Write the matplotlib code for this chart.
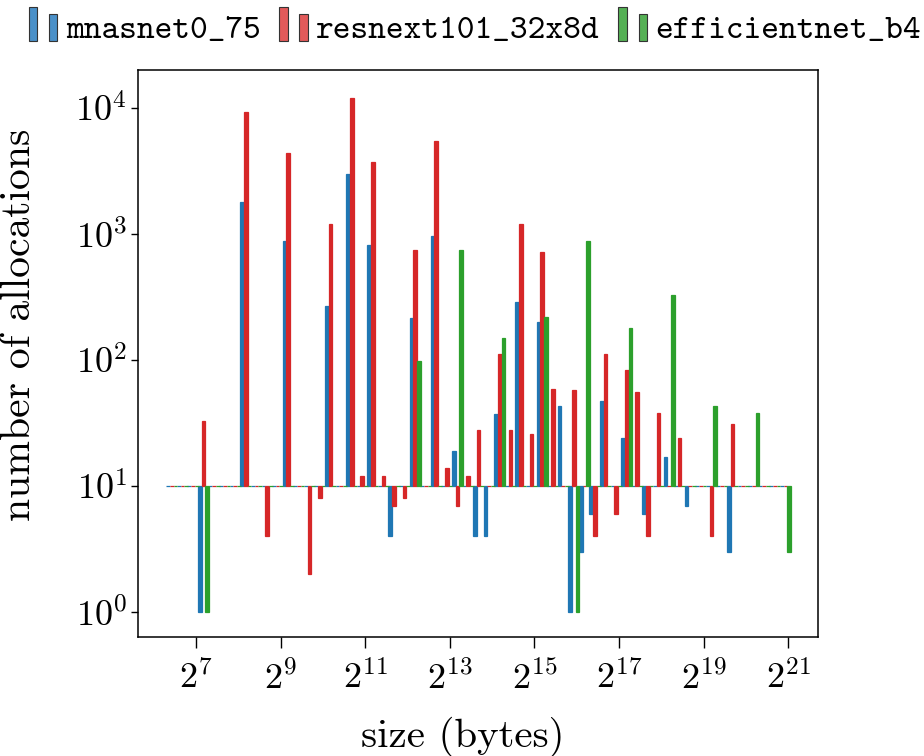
import numpy as np
import matplotlib
matplotlib.use("Agg")
import matplotlib.pyplot as plt
from matplotlib.patches import Rectangle, Patch
from matplotlib.legend_handler import HandlerBase
from matplotlib.ticker import NullLocator

plt.rcParams['mathtext.fontset'] = 'cm'
plt.rcParams['axes.formatter.use_mathtext'] = True

# bin positions, in log2(bytes)
size_log2 = 6.43 + 0.25 * np.arange(59)

mnasnet0_75 = [10, 10, 10, 1, 10, 10, 10, 1800, 10, 10,
               10, 870, 10, 10, 10, 270, 10, 3000, 10, 820,
               10, 4, 10, 215, 10, 960, 10, 19, 10, 4,
               4, 37, 10, 290, 10, 200, 10, 43, 1, 3,
               6, 47, 10, 24, 10, 6, 10, 17, 10, 7,
               10, 10, 10, 3, 10, 10, 10, 10, 10]

resnext101_32x8d = [10, 10, 10, 33, 10, 10, 10, 9200, 10, 4,
                    10, 4400, 10, 2, 8, 1200, 10, 12000, 12, 3700,
                    12, 7, 8, 740, 10, 5500, 14, 7, 12, 28,
                    10, 112, 28, 1200, 26, 720, 59, 10, 58, 10,
                    4, 112, 6, 83, 56, 4, 38, 10, 24, 10,
                    10, 4, 10, 31, 10, 10, 10, 10, 10]

efficientnet_b4 = [10, 10, 10, 1, 10, 10, 10, 10, 10, 10,
                   10, 10, 10, 10, 10, 10, 10, 10, 10, 10,
                   10, 10, 10, 98, 10, 10, 10, 740, 10, 10,
                   10, 150, 10, 10, 10, 220, 10, 10, 1, 880,
                   10, 10, 10, 180, 10, 10, 10, 330, 10, 10,
                   10, 43, 10, 10, 10, 38, 10, 10, 3]

series_names = ["mnasnet0_75", "resnext101_32x8d", "efficientnet_b4"]
series_vals = [mnasnet0_75, resnext101_32x8d, efficientnet_b4]
colors = ["#1f77b4", "#d62728", "#2ca02c"]
legend_fill = ["#4a90c8", "#e25a5a", "#55b055"]

baseline = 10
xtick_exps = [7, 9, 11, 13, 15, 17, 19, 21]
ytick_exps = [0, 1, 2, 3, 4]

fig = plt.figure(figsize=(9.24, 7.56), dpi=100)
ax = fig.add_axes([138 / 924, 1 - 637 / 756, (818 - 138) / 924, (637 - 70) / 756])

w = 0.087
for k, (vals, c) in enumerate(zip(series_vals, colors)):
    v = np.asarray(vals, dtype=float)
    ax.bar(size_log2 + (k - 1) * w, v - baseline, bottom=baseline, width=w,
           color=c, edgecolor=c, linewidth=0.9, align='center')

ax.set_yscale('log')
ax.set_ylim(0.634, 19950)
ax.set_xlim(5.63, 21.70)
ax.yaxis.set_minor_locator(NullLocator())
ax.set_xticks(xtick_exps)
ax.set_xticklabels([rf'$2^{{{e}}}$' for e in xtick_exps])
ax.set_yticks([10.0 ** e for e in ytick_exps])
ax.set_yticklabels([rf'$10^{{{e}}}$' for e in ytick_exps])
ax.tick_params(direction='out', width=1.0, labelsize=26)
ax.tick_params(axis='x', length=8, pad=9)
ax.tick_params(axis='y', length=5, pad=3)
for s in ax.spines.values():
    s.set_linewidth(1.1)

ax.set_xlabel('size (bytes)', family='cmr10', fontsize=29.5)
ax.set_ylabel('number of allocations', family='cmr10', fontsize=30)
ax.xaxis.set_label_coords(0.477, -0.141)
ax.yaxis.set_label_coords(-0.147, 0.55)


class TwoBars(HandlerBase):
    def create_artists(self, legend, orig_handle, xdescent, ydescent,
                       width, height, fontsize, trans):
        fc = orig_handle.get_facecolor()
        ec = orig_handle.get_edgecolor()
        bw = width * 0.3
        r1 = Rectangle((-xdescent, -ydescent - 0.15 * height), bw, height * 1.45,
                       facecolor=fc, edgecolor=ec, linewidth=0.8, transform=trans)
        r2 = Rectangle((-xdescent + width * 0.7, -ydescent - 0.15 * height), bw, height * 1.15,
                       facecolor=fc, edgecolor=ec, linewidth=0.8, transform=trans)
        return [r1, r2]


handles = [Patch(facecolor=f, edgecolor='#333333') for f in legend_fill]
fig.legend(handles, series_names, handler_map={Patch: TwoBars()},
           loc='upper center', bbox_to_anchor=(0.514, 0.995), ncol=3, frameon=False,
           prop={'family': ['cmtt10', 'DejaVu Sans Mono'], 'size': 24.3},
           handlelength=0.85, handletextpad=0.25, columnspacing=0.55,
           borderpad=0.2, borderaxespad=0.1)

fig.savefig('out.png', dpi=100)
